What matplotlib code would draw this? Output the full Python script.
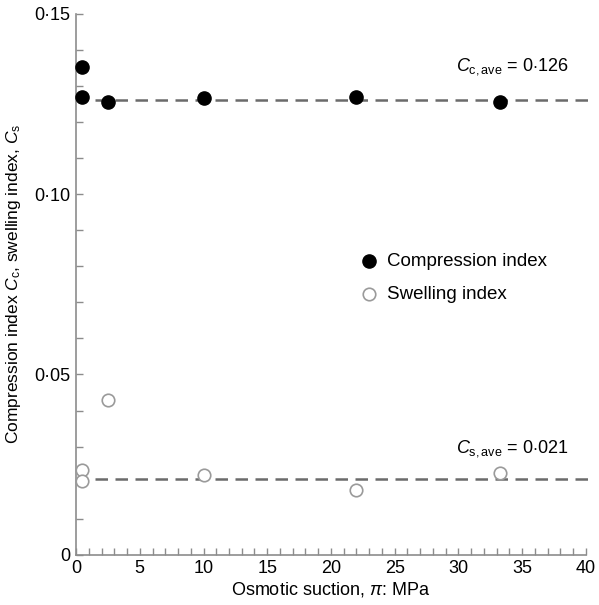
import matplotlib
matplotlib.use("Agg")
import matplotlib.pyplot as plt
from matplotlib.ticker import MultipleLocator, FuncFormatter

plt.rcParams['font.family'] = ['Liberation Sans', 'DejaVu Sans']
plt.rcParams['mathtext.fontset'] = 'custom'
plt.rcParams['mathtext.it'] = 'Liberation Sans:italic'
plt.rcParams['mathtext.rm'] = 'Liberation Sans'

# Osmotic suction (MPa) and measured indices
cc_suction = [0.5, 0.5, 2.5, 10.0, 22.0, 33.3]
cc_values = [0.1352, 0.1269, 0.1255, 0.1266, 0.1269, 0.1255]
cs_suction = [0.5, 0.5, 2.5, 10.0, 22.0, 33.3]
cs_values = [0.0236, 0.0206, 0.0429, 0.0222, 0.0181, 0.0227]
cc_ave = 0.126
cs_ave = 0.021
ave_span = [1.5, 40.2]

grey = "#8c8c8c"

fig = plt.figure(figsize=(5.99, 6.05), dpi=100)
ax = fig.add_axes([0.127, 0.083, 0.851, 0.894])

ax.plot(ave_span, [cc_ave, cc_ave], ls=(0, (5, 3)), color="#6b6b6b", lw=1.8, clip_on=False, zorder=1)
ax.plot(ave_span, [cs_ave, cs_ave], ls=(0, (5, 3)), color="#6b6b6b", lw=1.8, clip_on=False, zorder=1)

ax.plot(cc_suction, cc_values, "o", color="black", ms=9.5, ls="none", clip_on=False, zorder=3)
ax.plot(cs_suction, cs_values, "o", mfc="white", mec="#9a9a9a", mew=1.2, ms=9, ls="none", clip_on=False, zorder=3)

# legend drawn as markers + text
ax.plot([23.0], [0.0814], "o", color="black", ms=9.5, clip_on=False)
ax.plot([23.0], [0.0722], "o", mfc="white", mec="#9a9a9a", mew=1.2, ms=9, clip_on=False)
ax.text(24.4, 0.0814, "Compression index", fontsize=13.5, va="center", ha="left")
ax.text(24.4, 0.0722, "Swelling index", fontsize=13.5, va="center", ha="left")

ax.text(29.8, 0.1355, r"$C_{\mathrm{c,ave}}$ = 0$\cdot$126", fontsize=13, va="center", ha="left")
ax.text(29.8, 0.0294, r"$C_{\mathrm{s,ave}}$ = 0$\cdot$021", fontsize=13, va="center", ha="left")

ax.set_xlim(0, 40)
ax.set_ylim(0, 0.15)
ax.xaxis.set_major_locator(MultipleLocator(5))
ax.xaxis.set_minor_locator(MultipleLocator(1))
ax.yaxis.set_major_locator(MultipleLocator(0.05))
ax.yaxis.set_minor_locator(MultipleLocator(0.01))
ax.yaxis.set_major_formatter(FuncFormatter(lambda v, p: "0" if abs(v) < 1e-9 else f"{v:.2f}".replace(".", "\u00b7")))

for s in ["top", "right"]:
    ax.spines[s].set_visible(False)
for s in ["left", "bottom"]:
    ax.spines[s].set_color(grey)
    ax.spines[s].set_linewidth(1.2)

ax.tick_params(which="both", direction="in", color=grey, width=1, labelsize=13)
ax.tick_params(which="major", length=5, pad=4)
ax.tick_params(which="minor", length=5)

ax.set_xlabel(r"Osmotic suction, $\pi$: MPa", fontsize=13, labelpad=2)
ax.set_ylabel(r"Compression index $C_{\mathrm{c}}$, swelling index, $C_{\mathrm{s}}$", fontsize=12.5, labelpad=8)

fig.savefig("out.png", dpi=100)
